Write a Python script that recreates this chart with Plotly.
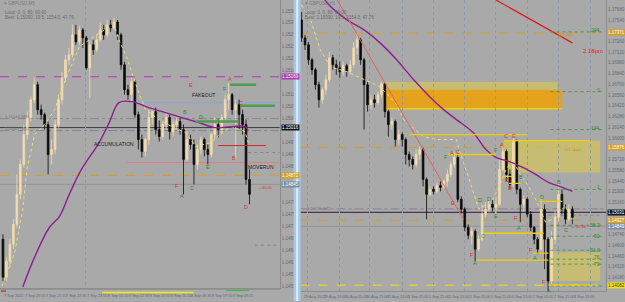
import plotly.graph_objects as go

# ---------------- LEFT PANEL (M5) DATA ----------------
left_open0 = 1.14680
left_close = [1.14566,1.14614,1.14665,1.14725,1.14815,1.14905,1.14995,1.15046,1.15100,1.15145,
              1.15070,1.15055,1.15025,1.14935,1.14950,1.15025,1.15100,1.15166,1.15220,1.15235,
              1.15295,1.15274,1.15310,1.15286,1.15196,1.15265,1.15250,1.15280,1.15310,1.15295,
              1.15325,1.15316,1.15334,1.15295,1.15205,1.15130,1.15115,1.15154,1.15055,1.14980,
              1.14944,1.14980,1.15046,1.15064,1.15010,1.14989,1.15025,1.15046,1.15004,1.15025,
              1.15034,1.15010,1.14920,1.14980,1.14965,1.14905,1.14950,1.14980,1.14950,1.14935,
              1.14995,1.15025,1.15010,1.15046,1.15100,1.15115,1.15070,1.15085,1.15055,1.15025,
              1.14860,1.14815]
left_high = [1.14695,1.14626,1.14680,1.14740,1.14875,1.14920,1.15025,1.15064,1.15109,1.15166,
             1.15154,1.15085,1.15061,1.15034,1.14980,1.15040,1.15115,1.15184,1.15235,1.15256,
             1.15325,1.15325,1.15322,1.15316,1.15292,1.15280,1.15280,1.15295,1.15334,1.15325,
             1.15340,1.15340,1.15346,1.15340,1.15301,1.15214,1.15145,1.15166,1.15160,1.15064,
             1.14995,1.14986,1.15070,1.15076,1.15076,1.15040,1.15034,1.15064,1.15055,1.15040,
             1.15046,1.15046,1.15025,1.15010,1.14995,1.14980,1.14965,1.14989,1.14986,1.14965,
             1.15001,1.15046,1.15040,1.15055,1.15115,1.15151,1.15120,1.15100,1.15100,1.15070,
             1.15040,1.14890]
left_low = [1.14554,1.14554,1.14596,1.14650,1.14716,1.14800,1.14896,1.14980,1.15034,1.15091,
            1.15055,1.15040,1.15010,1.14875,1.14905,1.14935,1.15016,1.15085,1.15154,1.15205,
            1.15226,1.15265,1.15265,1.15256,1.15190,1.15106,1.15235,1.15244,1.15274,1.15280,
            1.15289,1.15304,1.15310,1.15280,1.15190,1.15115,1.15100,1.15091,1.15046,1.14950,
            1.14926,1.14929,1.14965,1.15025,1.14995,1.14974,1.14980,1.15010,1.14980,1.14989,
            1.15010,1.14995,1.14815,1.14914,1.14950,1.14845,1.14890,1.14935,1.14929,1.14905,
            1.14926,1.14980,1.14986,1.14995,1.15040,1.15070,1.15055,1.14920,1.15010,1.14995,
            1.14845,1.14785]
left_ma_x = [5.7,9.1,13.4,16.3,19.1,22.6,27.7,30.6,33.4,37.1,42.0,50.6,56.3,61.1,65.7,69.7,70.6]
left_ma_y = [1.14536,1.14626,1.14716,1.14749,1.14815,1.14890,1.14971,1.15031,1.15091,1.15094,
             1.15076,1.15049,1.15031,1.15016,1.15019,1.15019,1.15007]
left_zz_x = [-0.3,3.4,5.7,6.9,9.1,12.0,14.9,18.3,22.0,27.7,32.0,33.4,35.7,39.1,41.1,44.9,48.6,
             52.6,55.4,60.0,62.9,65.7,69.7,70.6]
left_zz_y = [1.14539,1.14641,1.14770,1.14890,1.14995,1.15025,1.15070,1.15169,1.15259,1.15301,
             1.15325,1.15280,1.15226,1.15121,1.15070,1.15040,1.15019,1.15001,1.14959,1.14971,
             1.15001,1.15019,1.15004,1.14971]
left_time_labels = ["7 Sep 2022","7 Sep 19:55","7 Sep 21:15","7 Sep 22:35","7 Sep 23:55",
                    "8 Sep 01:15","8 Sep 02:35","8 Sep 03:55","8 Sep 05:15","8 Sep 06:35",
                    "8 Sep 07:55","8 Sep 09:15"]
left_price_ticks = [1.14539,1.14575,1.14611,1.14647,1.14683,1.14719,1.14755,1.14791,1.14899,1.14935,
                    1.14971,1.15043,1.15079,1.15115,1.15187,1.15223,1.15259,1.15295,1.15331,1.15367]

# left levels
L_MAGENTA = 1.15169
L_BLUE = 1.15091
L_GREEN = [1.15145, 1.15082, 1.15034]
L_DASHDOT = [1.15043, 1.15007]
L_CURRENT = 1.15016
L_RED = 1.14962
L_PINK = 1.14911
L_ORANGE = 1.14872
L_BID = 1.14845
L_DOTTED = [1.14941, 1.14662]

# ---------------- RIGHT PANEL (H1) DATA ----------------
right_open0 = 1.17540
right_close = [1.17306,1.17215,1.17020,1.16890,1.16695,1.16500,1.16630,1.16760,1.17046,1.16955,
               1.16916,1.16864,1.16942,1.16864,1.16955,1.17176,1.17280,1.17020,1.16695,1.16435,
               1.16500,1.16461,1.16565,1.16708,1.16344,1.16175,1.16214,1.15980,1.16045,1.15980,
               1.15785,1.15720,1.15655,1.15785,1.15850,1.15460,1.15265,1.15330,1.15304,1.15382,
               1.15356,1.15434,1.15525,1.15655,1.15746,1.15200,1.15070,1.14836,1.14732,1.14784,
               1.14550,1.14680,1.15005,1.15070,1.15135,1.15096,1.15135,1.15590,1.15824,1.15525,
               1.15395,1.15954,1.15330,1.15135,1.15200,1.15005,1.14836,1.14680,1.14550,1.15070,
               1.14680,1.14134,1.14680,1.14966,1.15265,1.15070,1.14940,1.15070,1.14966]
right_high = [1.17644,1.17345,1.17254,1.17046,1.16916,1.16734,1.16656,1.16825,1.17124,1.17085,
              1.17020,1.16994,1.16994,1.16968,1.17020,1.17254,1.17371,1.17306,1.17046,1.16734,
              1.16565,1.16565,1.16604,1.16734,1.16708,1.16370,1.16266,1.16240,1.16110,1.16071,
              1.16006,1.15824,1.15759,1.15850,1.15889,1.15876,1.15486,1.15369,1.15369,1.15421,
              1.15434,1.15460,1.15590,1.15694,1.15811,1.15785,1.15239,1.15096,1.14875,1.14836,
              1.14810,1.14732,1.15135,1.15161,1.15200,1.15200,1.15226,1.15720,1.15902,1.15850,
              1.15590,1.16045,1.15980,1.15356,1.15252,1.15226,1.15044,1.14849,1.14706,1.15226,
              1.15135,1.14706,1.14784,1.15044,1.15421,1.15330,1.15135,1.15135,1.15109]
right_low = [1.17254,1.17150,1.16955,1.16825,1.16630,1.16396,1.16448,1.16565,1.16734,1.16890,
             1.16825,1.16786,1.16812,1.16799,1.16825,1.16916,1.17085,1.16955,1.16110,1.16344,
             1.16370,1.16396,1.16435,1.16526,1.16266,1.16019,1.16110,1.15889,1.15915,1.15889,
             1.15655,1.15629,1.15590,1.15616,1.15720,1.15369,1.14940,1.15239,1.15265,1.15278,
             1.15304,1.15343,1.15369,1.15486,1.15616,1.15161,1.15018,1.14784,1.14680,1.14615,
             1.14394,1.14524,1.14654,1.14966,1.15031,1.15044,1.15005,1.15109,1.15564,1.15434,
             1.15330,1.15356,1.15265,1.14901,1.15044,1.14966,1.14784,1.14615,1.14485,1.14524,
             1.14290,1.14004,1.14095,1.14615,1.14914,1.15005,1.14875,1.14914,1.14875]
right_ma_x = [6.0,7.4,13.1,18.0,22.6,27.4,32.3,36.9,40.9,44.6,49.4,53.1,56.0,59.7,63.7,67.4,71.1,75.1,78.0]
right_ma_y = [1.17865,1.17761,1.17540,1.17410,1.17241,1.17020,1.16760,1.16539,1.16370,1.16240,
              1.16071,1.15850,1.15746,1.15694,1.15616,1.15525,1.15421,1.15356,1.15304]
right_zz_x = [0.0,2.6,5.4,8.3,13.1,18.0,22.6,27.4,29.4,35.1,38.9,44.6,45.4,48.3,51.1,55.1,56.9,
              58.9,60.9,62.6,65.4,67.4,70.3,72.3,74.0,76.0,78.0]
right_zz_y = [1.17735,1.17540,1.17150,1.16929,1.16864,1.16760,1.16669,1.16435,1.16240,1.16019,
              1.15980,1.15980,1.15850,1.15460,1.15070,1.15200,1.15369,1.15590,1.15720,1.15551,
              1.15369,1.15200,1.14901,1.14940,1.15031,1.15109,1.14940]
right_trend1_x = [10.3, 46.6]
right_trend1_y = [1.17800, 1.14940]
right_trend2_x = [56.0, 78.0]
right_trend2_y = [1.17800, 1.17241]
right_time_labels = ["29 Aug 2022","29 Aug 13:00","30 Aug 05:00","30 Aug 21:00","31 Aug 13:00",
                     "1 Sep 05:00","1 Sep 21:00","2 Sep 13:00","5 Sep 05:00","5 Sep 21:00",
                     "6 Sep 13:00","7 Sep 05:00","7 Sep 21:00","8 Sep 13:00"]
right_price_ticks = [1.14180,1.14320,1.14460,1.14600,1.14740,1.15160,1.15300,1.15440,1.15580,
                     1.15720,1.16000,1.16140,1.16280,1.16420,1.16560,1.16700,1.16840,1.16980,
                     1.17120,1.17260,1.17540,1.17680]
R_ORANGE = [1.17371, 1.15876, 1.14927]
R_CURRENT = 1.15031
R_DASHDOT = 1.15076
R_BID = 1.14849
R_YELLOW_DASH = 1.14082
R_FIBS = [1.17384, 1.16604, 1.16110, 1.15330, 1.14862, 1.14719, 1.14537, 1.14420, 1.14355, 1.14069]
R_FIB_TEXT = ["244", "0", "144", "1", "38.2", "50", "61.8", "76", "79", ""]

# ---------------- FIGURE ----------------
W, H = 625, 302
BG = "#a9a9a9"
UP = "#f2dcb0"
DN = "#0a0a0a"
AXC = "#5d6b7a"
NARROW = "Liberation Sans Narrow, Liberation Sans, Arial"
fig = go.Figure()

lo = [left_open0] + left_close[:-1]
ro = [right_open0] + right_close[:-1]

fig.add_trace(go.Scatter(x=left_zz_x, y=left_zz_y, mode="lines", xaxis="x", yaxis="y",
                         line=dict(color="#e6e27a", width=1, dash="dot"), hoverinfo="skip"))
fig.add_trace(go.Candlestick(x=list(range(len(left_close))), open=lo, high=left_high, low=left_low,
                             close=left_close, xaxis="x", yaxis="y", whiskerwidth=0,
                             increasing=dict(line=dict(color=UP, width=0.8), fillcolor=UP),
                             decreasing=dict(line=dict(color=DN, width=0.8), fillcolor=DN)))
fig.add_trace(go.Scatter(x=left_ma_x, y=left_ma_y, mode="lines", xaxis="x", yaxis="y",
                         line=dict(color="#8e1f8e", width=1.4, shape="spline"), hoverinfo="skip"))

fig.add_trace(go.Scatter(x=right_zz_x, y=right_zz_y, mode="lines", xaxis="x2", yaxis="y2",
                         line=dict(color="#e6e27a", width=1, dash="dot"), hoverinfo="skip"))
fig.add_trace(go.Candlestick(x=list(range(len(right_close))), open=ro, high=right_high, low=right_low,
                             close=right_close, xaxis="x2", yaxis="y2", whiskerwidth=0,
                             increasing=dict(line=dict(color=UP, width=0.8), fillcolor=UP),
                             decreasing=dict(line=dict(color=DN, width=0.8), fillcolor=DN)))
fig.add_trace(go.Scatter(x=right_ma_x, y=right_ma_y, mode="lines", xaxis="x2", yaxis="y2",
                         line=dict(color="#8e1f8e", width=1.4, shape="spline"), hoverinfo="skip"))
fig.add_trace(go.Scatter(x=right_trend1_x, y=right_trend1_y, mode="lines", xaxis="x2", yaxis="y2",
                         line=dict(color="#e0645c", width=1), hoverinfo="skip"))
fig.add_trace(go.Scatter(x=right_trend2_x, y=right_trend2_y, mode="lines", xaxis="x2", yaxis="y2",
                         line=dict(color="#e01818", width=1.2), hoverinfo="skip"))

shapes = []
ann = []


def hl(ax, y, x0=None, x1=None, color="#000", width=1, dash="solid", layer="below"):
    if x0 is None:
        shapes.append(dict(type="line", xref=ax + " domain", yref="y" if ax == "x" else "y2",
                           x0=0, x1=1, y0=y, y1=y, layer=layer,
                           line=dict(color=color, width=width, dash=dash)))
    else:
        shapes.append(dict(type="line", xref=ax, yref="y" if ax == "x" else "y2",
                           x0=x0, x1=x1, y0=y, y1=y, layer=layer,
                           line=dict(color=color, width=width, dash=dash)))


def rect(ax, x0, x1, y0, y1, fill, layer="below"):
    shapes.append(dict(type="rect", xref=ax, yref="y" if ax == "x" else "y2",
                       x0=x0, x1=x1, y0=y0, y1=y1, fillcolor=fill, line=dict(width=0), layer=layer))


def tag(ax, y, text, bg, fc="#ffffff"):
    xp = 283 / W if ax == "x" else 612 / W
    ann.append(dict(xref="paper", yref="y" if ax == "x" else "y2", x=xp, y=y, xanchor="left",
                    yanchor="middle", text=text, showarrow=False, bgcolor=bg, borderpad=0,
                    font=dict(size=4.5, color=fc, family=NARROW)))


def txt(px, py, text, color, size=6, anchor="center", bold=False, family="Arial"):
    t = "<b>" + text + "</b>" if bold else text
    ann.append(dict(xref="paper", yref="paper", x=px / W, y=1 - py / H, text=t, showarrow=False,
                    xanchor=anchor, yanchor="middle", font=dict(size=size, color=color, family=family)))


# ---- left levels
hl("x", L_MAGENTA, color="#b23cb2", width=1, dash="dash")
hl("x", L_BLUE, 39.1, 79.7, color="#8ea6d6", width=1.2)
hl("x", L_GREEN[0], 65.4, 72.9, color="#4e9e4e", width=2.5, layer="above")
hl("x", L_GREEN[1], 68.3, 78.3, color="#4e9e4e", width=2.5, layer="above")
hl("x", L_GREEN[2], 55.4, 67.7, color="#4e9e4e", width=2.5, layer="above")
for v in L_DASHDOT:
    hl("x", v, color="#7c7c8c", width=0.8, dash="dashdot")
hl("x", L_CURRENT, color="#202020", width=0.8)
hl("x", L_RED, 62.0, 75.7, color="#d22a2a", width=1.2, layer="above")
hl("x", L_PINK, 35.7, 79.7, color="#d8808c", width=1)
hl("x", L_ORANGE, color="#d4a020", width=1, dash="dash")
hl("x", L_BID, color="#939393", width=1)
hl("x", L_DOTTED[0], 70.6, 79.7, color="#808080", width=0.8, dash="dot")
hl("x", L_DOTTED[1], 72.6, 79.7, color="#808080", width=0.8, dash="dot")
tag("x", L_MAGENTA, "1.15169", "#a93aa9")
tag("x", L_CURRENT, "1.15016", "#141414")
tag("x", L_ORANGE, "1.14872", "#d4a020")
tag("x", L_BID, "1.14845", "#7d8ea3")

# ---- right levels / boxes
rect("x2", 23.7, 73.7, 1.16383, 1.16734, "rgba(222,205,70,0.55)")
rect("x2", 23.7, 75.1, 1.16383, 1.16630, "rgba(232,160,20,0.9)")
hl("x2", 1.16383, 23.7, 75.1, color="#f0d000", width=1.5)
rect("x2", 58.3, 86.0, 1.15551, 1.15967, "rgba(222,205,70,0.55)")
rect("x2", 71.1, 86.0, 1.14134, 1.14511, "rgba(222,205,70,0.55)")
for v in R_ORANGE:
    hl("x2", v, color="#d4a020", width=1, dash="dash")
hl("x2", R_DASHDOT, color="#7c7c8c", width=0.8, dash="dashdot")
hl("x2", R_CURRENT, color="#3a1a3a", width=1)
hl("x2", R_BID, color="#939393", width=1)
hl("x2", R_YELLOW_DASH, color="#e6d820", width=1.2, dash="dash")
hl("x2", 1.14992, 71.1, 86.0, color="#808080", width=0.8, dash="dot")
for v in R_FIBS:
    hl("x2", v, 71.7, 86.5, color="#3e9a3e", width=0.9, dash="dot", layer="above")
# yellow structure lines
for x0, x1, y in [(31.1, 65.1, 1.16045), (58.3, 83.1, 1.15967), (42.3, 56.0, 1.15785),
                  (58.3, 60.9, 1.15499), (59.7, 63.1, 1.15408), (68.3, 75.1, 1.15174),
                  (52.3, 69.7, 1.14758), (66.6, 71.1, 1.14498), (50.3, 71.1, 1.14407),
                  (71.1, 83.1, 1.14082)]:
    hl("x2", y, x0, x1, color="#f0d000", width=1.3, layer="above")
tag("x2", R_ORANGE[0], "1.17371", "#d4a020")
tag("x2", R_ORANGE[1], "1.15876", "#d4a020")
tag("x2", R_CURRENT, "1.15031", "#141414")
tag("x2", R_ORANGE[2], "1.14927", "#d4a020")
tag("x2", R_BID, "1.14849", "#7d8ea3")
tag("x2", R_YELLOW_DASH, "1.14082", "#f0e010", "#404040")

# fib labels (right)
fib_px_y = [30, 90, 128, 188, 226, 237, 251, 258, 265]
for t, py in zip(R_FIB_TEXT, fib_px_y):
    txt(607, py, t, "#2e8a2e", size=5, anchor="right")

# panel divider
shapes.append(dict(type="rect", xref="paper", yref="paper", x0=296 / W, x1=303 / W, y0=0, y1=1,
                   fillcolor="#a9c8e6", line=dict(width=0), layer="above"))
shapes.append(dict(type="rect", xref="paper", yref="paper", x0=298.5 / W, x1=300.5 / W, y0=0, y1=1,
                   fillcolor="#dceaf6", line=dict(width=0), layer="above"))
# bottom strip marks (left)
shapes.append(dict(type="line", xref="paper", yref="paper", x0=103 / W, x1=195 / W,
                   y0=1 - 293.5 / H, y1=1 - 293.5 / H, line=dict(color="#f2ee10", width=1.5)))
shapes.append(dict(type="line", xref="paper", yref="paper", x0=228 / W, x1=251 / W,
                   y0=1 - 291.5 / H, y1=1 - 291.5 / H, line=dict(color="#3cc03c", width=1.2)))
shapes.append(dict(type="line", xref="paper", yref="paper", x0=1 / W, x1=6 / W,
                   y0=1 - 292 / H, y1=1 - 292 / H, line=dict(color="#e02020", width=1.2)))
shapes.append(dict(type="line", xref="paper", yref="paper", x0=0, x1=282 / W,
                   y0=1 - 290 / H, y1=1 - 290 / H, line=dict(color="#8e8e8e", width=1.5)))

# ---- letters / text left
RED, GRN, DK = "#e03030", "#2d8a2d", "#1e1e1e"
for px_, py_, t, c in [(193, 85, "E", RED), (232, 79, "A", RED), (227, 89, "F", GRN), (243, 103, "C", RED),
                       (186, 112, "B", GRN), (203, 117, "D", GRN), (236, 159, "B", RED), (210, 168, "E", GRN),
                       (178, 187, "F", RED), (183, 197, "A", GRN), (194, 189, "C", GRN), (248, 208, "D", RED)]:
    txt(px_, py_, t, c, size=5.5)
txt(205, 95, "FAKEOUT", DK, size=5, family=NARROW)
txt(115, 144, "ACCUMULATION", DK, size=5, family=NARROW)
txt(263, 168, "MOVERUN", DK, size=5, family=NARROW)
txt(258, 188, "←40.0k", RED, size=4, anchor="left", family=NARROW)
txt(3, 117, "1.15043 (M5)", "#767680", size=4, anchor="left", family=NARROW)
txt(3, 129, "1.15007 (M5)", "#767680", size=4, anchor="left", family=NARROW)
txt(2, 4, "▾ GBPUSD,M5", "#7a7a7a", size=4.5, anchor="left", family=NARROW)
txt(3, 13, "Loop: 0, 0, 80, 00:00", "#6a6a6a", size=4.5, anchor="left", family=NARROW)
txt(3, 18, "Best: 1.15090, 19.5, 1154.0, 47.76", "#6a6a6a", size=4.5, anchor="left", family=NARROW)

# ---- letters / text right
for px_, py_, t, c in [(450, 158, "F", GRN), (456, 154, "A", RED), (462, 153, "C", RED),
                       (510, 136, "C", RED), (518, 136, "E", RED), (506, 145, "A", RED), (500, 150, "F", GRN),
                       (511, 181, "B", RED), (514, 189, "D", RED), (525, 178, "B", GRN), (457, 204, "E", RED),
                       (484, 201, "D", GRN), (493, 200, "D", GRN), (500, 217, "E", GRN), (520, 219, "F", RED),
                       (523, 229, "A", GRN), (546, 198, "D", GRN), (564, 183, "B", GRN), (571, 231, "C", GRN),
                       (487, 237, "C", GRN), (535, 251, "F", RED), (539, 259, "A", GRN), (476, 256, "F", RED),
                       (479, 264, "A", GRN), (548, 283, "F", RED), (553, 292, "A", GRN)]:
    txt(px_, py_, t, c, size=5.5)
txt(598, 51, "2.18pm", "#e02020", size=6, family=NARROW)
txt(570, 35, "@1.8pt", "#c89020", size=4.5, family=NARROW)
txt(577, 150, "261.2pips", "#c89020", size=4, family=NARROW)
txt(583, 227, "← 32.6k", RED, size=4, family=NARROW)
txt(307, 209, "1.15076 (H1)", "#767680", size=4, anchor="left", family=NARROW)
txt(305, 4, "▾ GBPUSD,H1", "#7a7a7a", size=4.5, anchor="left", family=NARROW)
txt(305, 13, "Loop: 0, 0, 80, 00:00", "#6a6a6a", size=4.5, anchor="left", family=NARROW)
txt(305, 18, "Best: 1.15090, 19.5, 1154.0, 47.76", "#6a6a6a", size=4.5, anchor="left", family=NARROW)

# time labels
for k, t in enumerate(left_time_labels):
    txt(2 + 21 * k, 296.5, t, AXC, size=3.8, anchor="left", family=NARROW)
for k, t in enumerate(right_time_labels):
    txt(304 + 21 * k, 297.5, t, AXC, size=3.8, anchor="left", family=NARROW)

axis_common = dict(showline=True, linecolor="#8c8c8c", linewidth=1, mirror=False, zeroline=False,
                   ticks="", fixedrange=True)
fig.update_layout(
    width=W, height=H, margin=dict(l=0, r=0, t=0, b=0),
    paper_bgcolor=BG, plot_bgcolor=BG, showlegend=False,
    xaxis=dict(domain=[0, 282 / W], range=[-0.857, 79.714], anchor="y", rangeslider=dict(visible=False),
               showticklabels=False, showgrid=True, gridcolor="#8f99a6", griddash="dot", gridwidth=0.8,
               tickvals=[23.9], **axis_common),
    yaxis=dict(domain=[13 / H, 1], range=[1.14533, 1.15400], anchor="x", side="right",
               showgrid=False, tickvals=left_price_ticks, tickformat=".5f",
               tickfont=dict(size=4.5, color=AXC, family=NARROW), **axis_common),
    xaxis2=dict(domain=[303 / W, 611 / W], range=[-0.286, 87.714], anchor="y2",
                rangeslider=dict(visible=False), showticklabels=False, showgrid=True,
                gridcolor="#8f99a6", griddash="dot", gridwidth=0.8,
                tickvals=[1.7, 10.9, 19.7, 29.1, 38.0, 46.9, 56.0, 65.1, 73.9, 83.1], **axis_common),
    yaxis2=dict(domain=[10 / H, 1], range=[1.14004, 1.17800], anchor="x2", side="right",
                showgrid=False, tickvals=right_price_ticks, tickformat=".5f",
                tickfont=dict(size=4.5, color=AXC, family=NARROW), **axis_common),
    shapes=shapes, annotations=ann,
)
fig.write_html("out.html")
